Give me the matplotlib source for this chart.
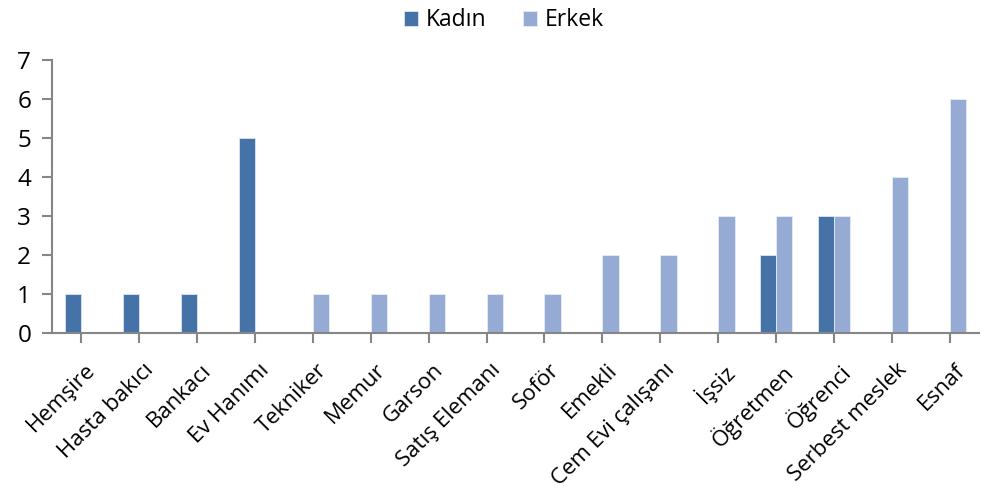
import matplotlib
matplotlib.use("Agg")
import matplotlib.pyplot as plt
import matplotlib.transforms as mtransforms
import numpy as np

plt.rcParams['font.family'] = ['Open Sans', 'DejaVu Sans']

meslekler = ["Hemşire", "Hasta bakıcı", "Bankacı", "Ev Hanımı", "Tekniker", "Memur",
             "Garson", "Satış Elemanı", "Soför", "Emekli", "Cem Evi çalışanı", "İşsiz",
             "Öğretmen", "Öğrenci", "Serbest meslek", "Esnaf"]
kadin = [1, 1, 1, 5, 0, 0, 0, 0, 0, 0, 0, 0, 2, 3, 0, 0]
erkek = [0, 0, 0, 0, 1, 1, 1, 1, 1, 2, 2, 3, 3, 3, 4, 6]

renk_kadin = "#4573A8"
renk_erkek = "#95ABD3"
eksen = "#868686"

fig = plt.figure(figsize=(9.89, 4.9), dpi=100)
ax = fig.add_axes([52/989, 1 - 333/490, 927/989, 273/490])

x = np.arange(len(meslekler))
w = 0.28
ax.bar(x - w/2, kadin, w, color=renk_kadin, edgecolor="#dde6f2", linewidth=0.6, label="Kadın")
ax.bar(x + w/2, erkek, w, color=renk_erkek, edgecolor="#e6ecf6", linewidth=0.6, label="Erkek")

ax.set_xlim(-0.5, len(meslekler) - 0.5)
ax.set_ylim(0, 7)
ax.set_yticks(range(0, 8))
ax.set_xticks(x)
ax.set_xticklabels(meslekler, rotation=45, ha="right", rotation_mode="anchor")

for s in ["top", "right"]:
    ax.spines[s].set_visible(False)
for s in ["left", "bottom"]:
    ax.spines[s].set_color(eksen)
    ax.spines[s].set_linewidth(1.5)
ax.tick_params(axis="both", colors=eksen, width=1.5, length=7, labelcolor="black", labelsize=17.5)
ax.tick_params(axis="x", pad=12, labelsize=16)
ax.tick_params(axis="y", pad=8)

# Excel etiketleri biraz sağa kayık
kayma = mtransforms.ScaledTranslation(4/100, 0, fig.dpi_scale_trans)
for lbl in ax.get_xticklabels():
    lbl.set_transform(lbl.get_transform() + kayma)

fig.legend(loc="upper center", bbox_to_anchor=(0.51, 1.025), ncol=2, frameon=False,
           fontsize=16.5, handlelength=0.6, handleheight=0.6, handletextpad=0.35, columnspacing=1.6)

fig.savefig("out.png", dpi=100)
